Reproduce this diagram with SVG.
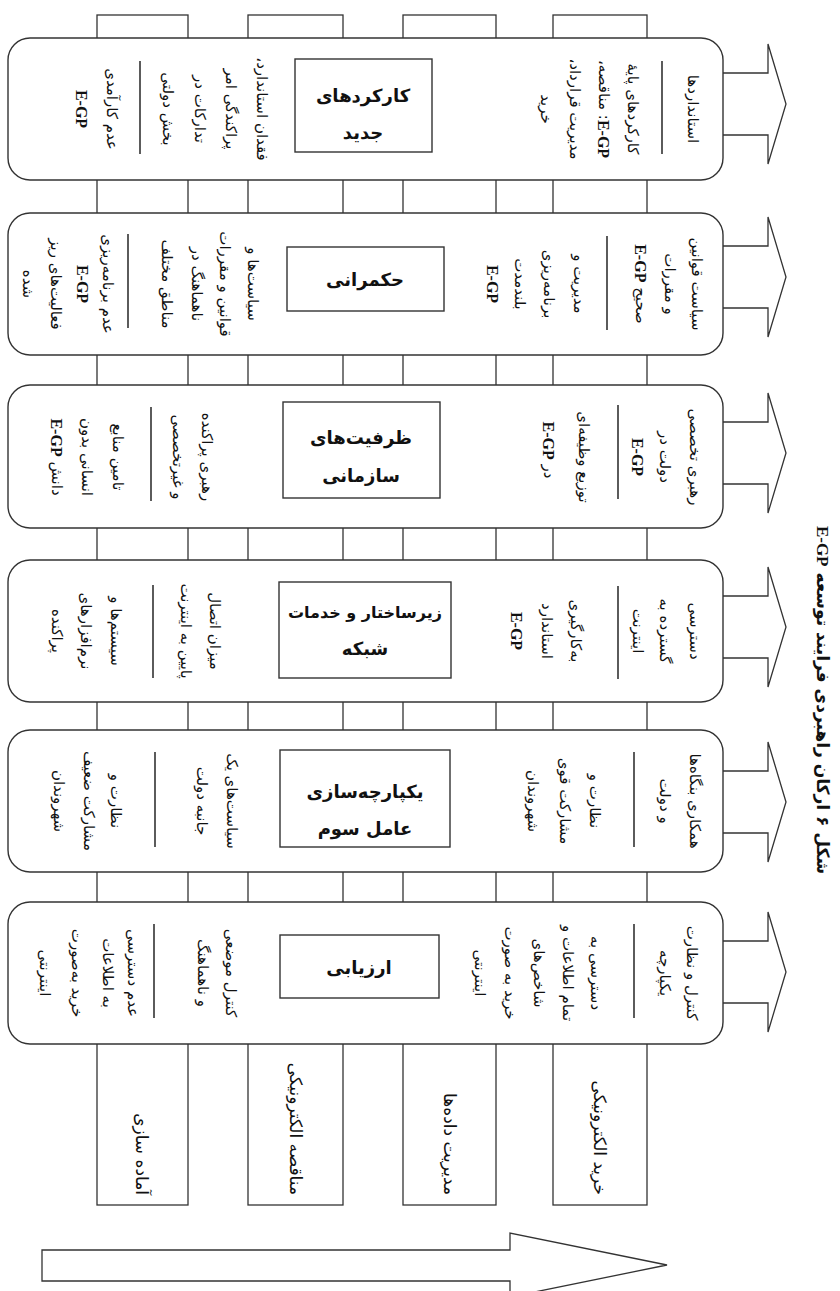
<svg xmlns="http://www.w3.org/2000/svg" width="840" height="1291" viewBox="0 0 840 1291">
<style>
.bar{fill:#fff;stroke:#333;stroke-width:1.3}
.row{fill:#fff;stroke:#333;stroke-width:1.4}
.box{fill:#fff;stroke:#333;stroke-width:1.4}
.div{stroke:#333;stroke-width:1.6}
.arr{fill:#fff;stroke:#333;stroke-width:1.3;stroke-linejoin:miter}
text{fill:#111}
.v{font-family:"DejaVu Sans",sans-serif;font-size:15px;text-anchor:middle;dominant-baseline:central;direction:rtl}
.e{font-family:"Liberation Serif",serif;font-weight:bold;font-size:16px}
.t{font-family:"DejaVu Sans",sans-serif;font-size:18px;font-weight:bold;text-anchor:middle;dominant-baseline:central;direction:rtl}
.bl{font-family:"DejaVu Sans",sans-serif;font-size:17px;text-anchor:end;dominant-baseline:central}
.ti{font-family:"DejaVu Sans",sans-serif;font-size:17px;font-weight:bold;text-anchor:middle;dominant-baseline:central;direction:rtl}
</style>

<g id="bars">
<g id="bar1"><rect class="bar" x="97" y="15" width="91" height="1190"/><text class="bl" transform="translate(142,1195) rotate(90)">آماده سازی</text></g>
<g id="bar2"><rect class="bar" x="248" y="15" width="95" height="1190"/><text class="bl" transform="translate(296,1195) rotate(90)">مناقصه الکترونیکی</text></g>
<g id="bar3"><rect class="bar" x="403" y="15" width="93" height="1190"/><text class="bl" transform="translate(450,1195) rotate(90)">مدیریت داده&#8204;ها</text></g>
<g id="bar4"><rect class="bar" x="553" y="15" width="94" height="1190"/><text class="bl" transform="translate(600,1195) rotate(90)">خرید الکترونیکی</text></g>
</g>

<g id="connectors">
<path class="arr" d="M723,73 H768 V44 L786,104 L768,164 V135 H723"/>
<path class="arr" d="M723,246 H768 V217 L786,277 L768,337 V308 H723"/>
<path class="arr" d="M723,422 H768 V393 L786,453 L768,513 V484 H723"/>
<path class="arr" d="M723,596 H768 V567 L786,627 L768,687 V658 H723"/>
<path class="arr" d="M723,771 H768 V742 L786,802 L768,862 V833 H723"/>
<path class="arr" d="M723,941 H768 V912 L786,972 L768,1032 V1003 H723"/>
<path class="arr" d="M42,1250 H510 V1233 L667,1265 L510,1297 V1281 H42 Z"/>
</g>

<g id="row1">
<rect class="row" x="8" y="38" width="715" height="142" rx="22"/>
<rect class="box" x="295" y="59" width="137" height="93"/>
<text class="t" x="363" y="95">کارکردهای</text>
<text class="t" x="363" y="132">جدید</text>
<line class="div" x1="662" y1="61" x2="662" y2="154"/>
<line class="div" x1="140" y1="61" x2="140" y2="154"/>
<text class="v" transform="translate(693,109) rotate(90)">استانداردها</text>
<text class="v" transform="translate(633,109) rotate(90)">کارکردهای پایهٔ</text>
<text class="v" transform="translate(604,109) rotate(90)"><tspan class="e">E-GP</tspan>: مناقصه،</text>
<text class="v" transform="translate(575,109) rotate(90)">مدیریت قرارداد،</text>
<text class="v" transform="translate(546,109) rotate(90)">خرید</text>
<text class="v" transform="translate(262,109) rotate(90)">فقدان استاندارد،</text>
<text class="v" transform="translate(231,109) rotate(90)">پراکندگی امر</text>
<text class="v" transform="translate(200,109) rotate(90)">تدارکات در</text>
<text class="v" transform="translate(168,109) rotate(90)">بخش دولتی</text>
<text class="v" transform="translate(112,109) rotate(90)">عدم کارآمدی</text>
<text class="v" transform="translate(82,109) rotate(90)"><tspan class="e">E-GP</tspan></text>
</g>

<g id="row2">
<rect class="row" x="8" y="213" width="715" height="142" rx="22"/>
<rect class="box" x="287" y="247" width="157" height="64"/>
<text class="t" x="365" y="279">حکمرانی</text>
<line class="div" x1="607" y1="236" x2="607" y2="330"/>
<line class="div" x1="128" y1="234" x2="128" y2="328"/>
<text class="v" transform="translate(697,284) rotate(90)">سیاست قوانین</text>
<text class="v" transform="translate(670,284) rotate(90)">و مقررات</text>
<text class="v" transform="translate(641,284) rotate(90)">صحیح <tspan class="e">E-GP</tspan></text>
<text class="v" transform="translate(579,284) rotate(90)">مدیریت و</text>
<text class="v" transform="translate(549,284) rotate(90)">برنامه&#8204;ریزی</text>
<text class="v" transform="translate(520,284) rotate(90)">بلندمدت</text>
<text class="v" transform="translate(493,284) rotate(90)"><tspan class="e">E-GP</tspan></text>
<text class="v" transform="translate(253,284) rotate(90)">سیاست&#8204;ها و</text>
<text class="v" transform="translate(225,284) rotate(90)">قوانین و مقررات</text>
<text class="v" transform="translate(197,284) rotate(90)">ناهماهنگ در</text>
<text class="v" transform="translate(167,284) rotate(90)">مناطق مختلف</text>
<text class="v" transform="translate(108,284) rotate(90)">عدم برنامه&#8204;ریزی</text>
<text class="v" transform="translate(83,284) rotate(90)"><tspan class="e">E-GP</tspan></text>
<text class="v" transform="translate(56,284) rotate(90)">فعالیت&#8204;های ریز</text>
<text class="v" transform="translate(28,284) rotate(90)">شده</text>
</g>

<g id="row3">
<rect class="row" x="8" y="385" width="715" height="143" rx="22"/>
<rect class="box" x="283" y="402" width="157" height="96"/>
<text class="t" x="361" y="437">ظرفیت&#8204;های</text>
<text class="t" x="361" y="475">سازمانی</text>
<line class="div" x1="618" y1="405" x2="618" y2="499"/>
<line class="div" x1="151" y1="407" x2="151" y2="501"/>
<text class="v" transform="translate(695,457) rotate(90)">رهبری تخصصی</text>
<text class="v" transform="translate(665,457) rotate(90)">دولت در</text>
<text class="v" transform="translate(638,457) rotate(90)"><tspan class="e">E-GP</tspan></text>
<text class="v" transform="translate(584,457) rotate(90)">توزیع وظیفه&#8204;ای</text>
<text class="v" transform="translate(549,450) rotate(90)">در <tspan class="e">E-GP</tspan></text>
<text class="v" transform="translate(207,457) rotate(90)">رهبری پراکنده</text>
<text class="v" transform="translate(178,457) rotate(90)">و غیرتخصصی</text>
<text class="v" transform="translate(118,457) rotate(90)">تامین منابع</text>
<text class="v" transform="translate(87,457) rotate(90)">انسانی بدون</text>
<text class="v" transform="translate(57,457) rotate(90)">دانش <tspan class="e">E-GP</tspan></text>
</g>

<g id="row4">
<rect class="row" x="8" y="560" width="715" height="142" rx="22"/>
<rect class="box" x="279" y="582" width="172" height="96"/>
<text class="t" x="365" y="612" style="font-size:16px">زیرساختار و خدمات</text>
<text class="t" x="365" y="648">شبکه</text>
<line class="div" x1="618" y1="586" x2="618" y2="679"/>
<line class="div" x1="153" y1="585" x2="153" y2="678"/>
<text class="v" transform="translate(695,631) rotate(90)">دسترسی</text>
<text class="v" transform="translate(665,631) rotate(90)">گسترده به</text>
<text class="v" transform="translate(638,631) rotate(90)">اینترنت</text>
<text class="v" transform="translate(576,631) rotate(90)">به&#8204;کارگیری</text>
<text class="v" transform="translate(547,631) rotate(90)">استاندارد</text>
<text class="v" transform="translate(517,631) rotate(90)"><tspan class="e">E-GP</tspan></text>
<text class="v" transform="translate(215,631) rotate(90)">میزان اتصال</text>
<text class="v" transform="translate(186,631) rotate(90)">پایین به اینترنت</text>
<text class="v" transform="translate(116,631) rotate(90)">سیستم&#8204;ها و</text>
<text class="v" transform="translate(86,631) rotate(90)">نرم&#8204;افزارهای</text>
<text class="v" transform="translate(57,631) rotate(90)">پراکنده</text>
</g>

<g id="row5">
<rect class="row" x="8" y="730" width="715" height="142" rx="22"/>
<rect class="box" x="280" y="750" width="170" height="97"/>
<text class="t" x="365" y="791">یکپارچه&#8204;سازی</text>
<text class="t" x="365" y="828">عامل سوم</text>
<line class="div" x1="634" y1="752" x2="634" y2="847"/>
<line class="div" x1="155" y1="752" x2="155" y2="847"/>
<text class="v" transform="translate(695,801) rotate(90)">همکاری بنگاه&#8204;ها</text>
<text class="v" transform="translate(665,801) rotate(90)">و دولت</text>
<text class="v" transform="translate(595,801) rotate(90)">نظارت و</text>
<text class="v" transform="translate(565,801) rotate(90)">مشارکت قوی</text>
<text class="v" transform="translate(533,801) rotate(90)">شهروندان</text>
<text class="v" transform="translate(232,801) rotate(90)">سیاست&#8204;های یک</text>
<text class="v" transform="translate(202,801) rotate(90)">جانبه دولت</text>
<text class="v" transform="translate(116,801) rotate(90)">نظارت و</text>
<text class="v" transform="translate(89,801) rotate(90)">مشارکت ضعیف</text>
<text class="v" transform="translate(59,801) rotate(90)">شهروندان</text>
</g>

<g id="row6">
<rect class="row" x="8" y="902" width="715" height="142" rx="22"/>
<rect class="box" x="280" y="935" width="159" height="63"/>
<text class="t" x="359" y="967">ارزیابی</text>
<line class="div" x1="634" y1="924" x2="634" y2="1018"/>
<line class="div" x1="154" y1="924" x2="154" y2="1018"/>
<text class="v" transform="translate(692,973) rotate(90)">کنترل و نظارت</text>
<text class="v" transform="translate(665,973) rotate(90)">یکپارچه</text>
<text class="v" transform="translate(596,973) rotate(90)">دسترسی به</text>
<text class="v" transform="translate(568,973) rotate(90)">تمام اطلاعات و</text>
<text class="v" transform="translate(539,973) rotate(90)">شاخص&#8204;های</text>
<text class="v" transform="translate(510,973) rotate(90)">خرید به صورت</text>
<text class="v" transform="translate(480,973) rotate(90)">اینترنتی</text>
<text class="v" transform="translate(231,973) rotate(90)">کنترل موضعی</text>
<text class="v" transform="translate(203,973) rotate(90)">و ناهماهنگ</text>
<text class="v" transform="translate(133,973) rotate(90)">عدم دسترسی</text>
<text class="v" transform="translate(108,973) rotate(90)">به اطلاعات</text>
<text class="v" transform="translate(77,973) rotate(90)">خرید به&#8204;صورت</text>
<text class="v" transform="translate(45,973) rotate(90)">اینترنتی</text>
</g>

<g id="title">
<text class="ti" transform="translate(823,700) rotate(90)">شکل ۶ ارکان راهبردی فرایند توسعه <tspan class="e" style="font-size:17px">E-GP</tspan></text>
</g>
</svg>
